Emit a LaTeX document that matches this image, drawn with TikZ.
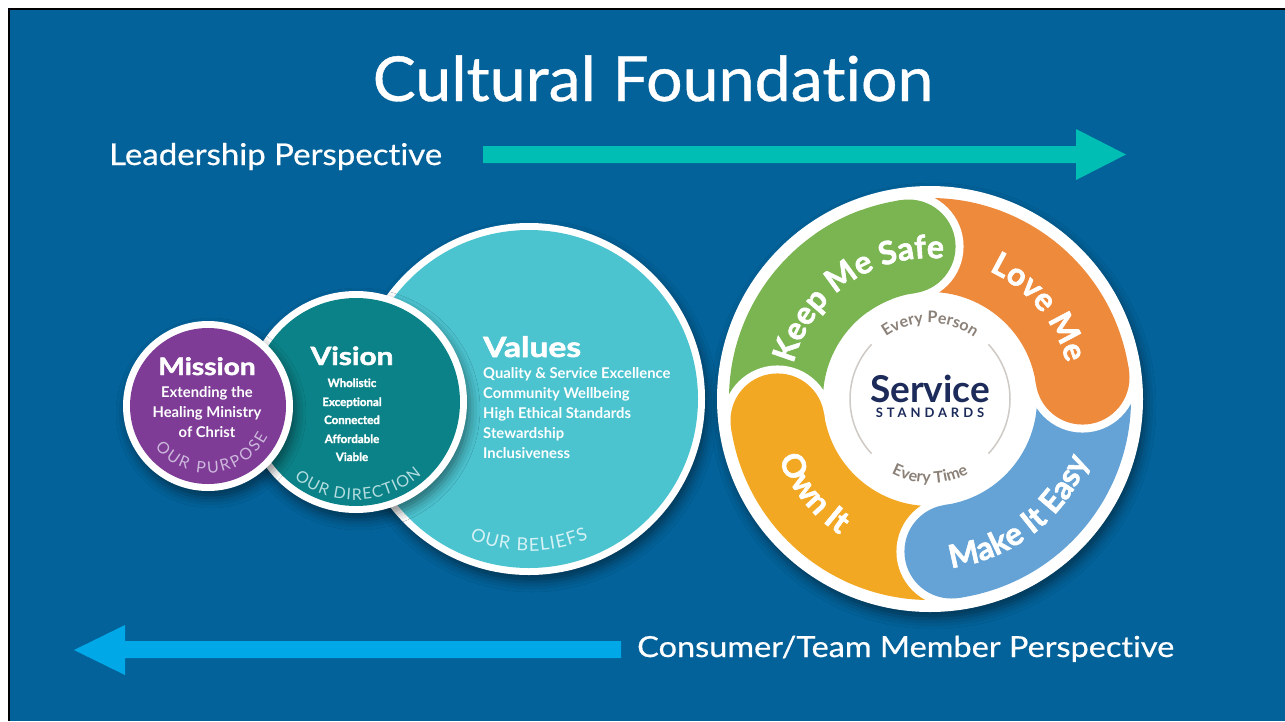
\documentclass[tikz,border=0pt]{standalone}
\usepackage{fontspec}
\setmainfont{Lato}[Ligatures={NoCommon}]
\newfontfamily\heavyfont{Lato}[Ligatures={NoCommon}, BoldFeatures={FakeBold=1.8}]
\newfontfamily\medfont{Lato}[Ligatures={NoCommon}, FakeBold=0.6]
\usetikzlibrary{decorations.text,shadows.blur}
\definecolor{bg}{HTML}{03629A}
\definecolor{arrowteal}{HTML}{00BEB4}
\definecolor{arrowblue}{HTML}{00A8E8}
\definecolor{cmission}{HTML}{7E3C96}
\definecolor{cvision}{HTML}{0B8287}
\definecolor{cvalues}{HTML}{4CC4D0}
\definecolor{tpurp}{HTML}{CDB7DC}
\definecolor{tdir}{HTML}{B3DDE0}
\definecolor{tbel}{HTML}{D6F2F5}
\definecolor{wgreen}{HTML}{7AB552}
\definecolor{worange}{HTML}{EE8A3C}
\definecolor{wblue}{HTML}{65A3D6}
\definecolor{wyellow}{HTML}{F3A823}
\definecolor{navy}{HTML}{1C2B5A}
\definecolor{warmgray}{HTML}{8B8178}
\definecolor{arcgray}{HTML}{CFCAC5}
\newcommand\fwheel{\heavyfont\bfseries\fontsize{32}{38}\selectfont}
\newcommand\fpurp{\fontsize{16}{19}\selectfont}
\newcommand\fdir{\fontsize{16}{19}\selectfont}
\newcommand\fbel{\fontsize{18}{21}\selectfont}
\newcommand\fevery{\bfseries\fontsize{16}{19}\selectfont}
\tikzset{
  circshadow/.style={blur shadow={shadow xshift=3pt, shadow yshift=-7pt, shadow blur radius=10pt, shadow opacity=45}},
  wtxt/.style={text=white, inner sep=0},
  curved/.style={decorate, decoration={text along path, text align=fit to path, text color=#1}},
  wlabel/.style={decorate, decoration={text along path, text align=center, text color=#1}},
}
\begin{document}
\begin{tikzpicture}[x=1pt,y=1pt]
\useasboundingbox (0,0) rectangle (1285,-721);
\fill[white] (0,0) rectangle (1285,-721);
\fill[black] (8,-8) rectangle (1285,-721);
\fill[bg] (10,-10) rectangle (1285,-721);

% titles
\node[wtxt, anchor=base] (title) at (653,-101) {\scalebox{1.04}[1]{\medfont\fontsize{62}{62}\selectfont Cultural Foundation}};
\node[wtxt, anchor=base west] (lead) at (109,-165) {\scalebox{1.1}[1]{\medfont\fontsize{30}{30}\selectfont Leadership Perspective}};
\node[wtxt, anchor=base west] (cons) at (637,-657) {\scalebox{1.12}[1]{\medfont\fontsize{29}{29}\selectfont Consumer/Team Member Perspective}};

% arrows
\fill[arrowteal] (483,-146) -- (1076,-146) -- (1076,-129) -- (1126,-154.5) -- (1076,-180) -- (1076,-163) -- (483,-163) -- cycle;
\fill[arrowblue] (621,-641) -- (125,-641) -- (125,-625) -- (74,-650) -- (125,-675) -- (125,-658) -- (621,-658) -- cycle;

% Values
\begin{scope}[shift={(529,-399)}]
  \fill[white, circshadow] (0,0) circle (176);
  \fill[cvalues] (0,0) circle (169);
  \path[curved=tbel, decoration={text={|\fbel|OUR BELIEFS}}] (247:152) arc[start angle=247, end angle=293, radius=152];
\end{scope}
\node[wtxt, anchor=base west] (valt) at (483,-357) {\scalebox{1.2}[1]{\heavyfont\bfseries\fontsize{28}{28}\selectfont Values}};
\foreach \t/\y [count=\i] in {Quality \& Service Excellence/378, Community Wellbeing/398, High Ethical Standards/418, Stewardship/438, Inclusiveness/458}
  \node[wtxt, anchor=base west] (val\i) at (483,-\y) {\bfseries\fontsize{14.8}{14.8}\selectfont \t};

% Vision
\begin{scope}[shift={(356,-402)}]
  \fill[white, circshadow] (0,0) circle (111);
  \fill[cvision] (0,0) circle (104);
  \path[curved=tdir, decoration={text={|\fdir|OUR DIRECTION}}] (231:98) arc[start angle=231, end angle=312, radius=98];
\end{scope}
\node[wtxt, anchor=base] (vist) at (352,-365) {\scalebox{1.19}[1]{\heavyfont\bfseries\fontsize{25}{25}\selectfont Vision}};
\foreach \t/\y [count=\i] in {Wholistic/387, Exceptional/406, Connected/424, Affordable/443, Viable/461}
  \node[wtxt, anchor=base] (vis\i) at (352,-\y) {\heavyfont\bfseries\fontsize{11.5}{11.5}\selectfont \t};

% Mission
\begin{scope}[shift={(208,-406)}]
  \fill[white, circshadow] (0,0) circle (85);
  \fill[cmission] (0,0) circle (78);
  \path[curved=tpurp, decoration={text={|\fpurp|OUR PURPOSE}}] (218:67) arc[start angle=218, end angle=333, radius=67];
\end{scope}
\node[wtxt, anchor=base] (mist) at (207,-375) {\scalebox{1.17}[1]{\heavyfont\bfseries\fontsize{24}{24}\selectfont Mission}};
\foreach \t/\y [count=\i] in {Extending the/397, Healing Ministry/417, of Christ/437}
  \node[wtxt, anchor=base] (mis\i) at (207,-\y) {\bfseries\fontsize{14.8}{14.8}\selectfont \t};

% Service standards wheel
\begin{scope}[shift={(930,-399)}]
  \fill[white, circshadow] (0,0) circle (213);
  \foreach \s/\e/\c in {188/98/wgreen, -82/-172/wyellow, 8/-82/wblue, 98/8/worange}{
    \draw[white, line width=110] (\s:154) arc[start angle=\s, end angle=\e, radius=154];
    \fill[white] (\e:154) circle (55);
    \draw[\c, line width=94] (\s:154) arc[start angle=\s, end angle=\e, radius=154];
    \fill[\c] (\e:154) circle (47);
  }
  % green head redrawn over the start of the orange segment
  \draw[white, line width=110] (110:154) arc[start angle=110, end angle=98, radius=154];
  \fill[white] (98:154) circle (55);
  \draw[wgreen, line width=94] (125:154) arc[start angle=125, end angle=98, radius=154];
  \fill[wgreen] (98:154) circle (47);
  \draw[arcgray, line width=1.5] (137:80) arc[start angle=137, end angle=223, radius=80];
  \draw[arcgray, line width=1.5] (-43:80) arc[start angle=-43, end angle=43, radius=80];
  \path[wlabel=white, decoration={text={|\fwheel|Keep Me Safe}}] (180:141) arc[start angle=180, end angle=70, radius=141];
  \path[wlabel=white, decoration={text={|\fwheel|Love Me}}] (90:141) arc[start angle=90, end angle=-10, radius=141];
  \path[wlabel=white, decoration={text={|\fwheel|Make It Easy}}] (-110:170) arc[start angle=-110, end angle=6, radius=170];
  \path[wlabel=white, decoration={text={|\fwheel|Own It}}] (184:163) arc[start angle=184, end angle=254, radius=163];
  \path[wlabel=warmgray, decoration={text={|\fevery|Every Person}}] (135:76) arc[start angle=135, end angle=45, radius=76];
  \path[wlabel=warmgray, decoration={text={|\fevery|Every Time}}] (225:84) arc[start angle=225, end angle=315, radius=84];
  \node[text=navy, anchor=base, inner sep=0] (serv) at (0,-3) {\bfseries\fontsize{37}{37}\selectfont Service};
  \node[text=navy, anchor=base, inner sep=0] (stand) at (0,-18) {\bfseries\fontsize{13}{13}\selectfont\addfontfeature{LetterSpace=30}STANDARDS};
\end{scope}
\end{tikzpicture}
\end{document}
